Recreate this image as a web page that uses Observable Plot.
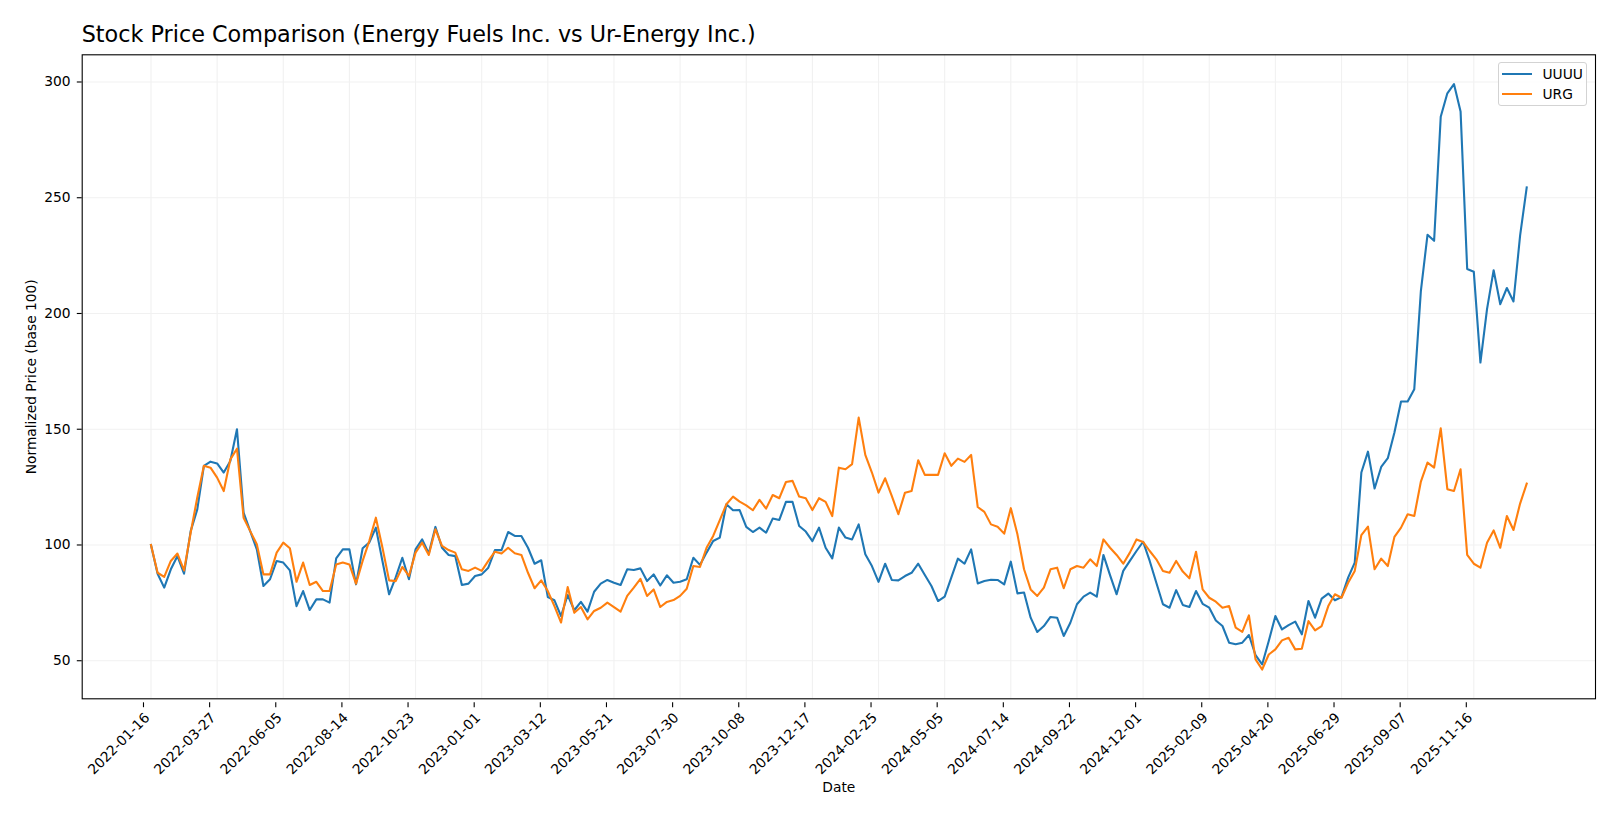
<!DOCTYPE html>
<html><head><meta charset="utf-8">
<script src="https://cdn.jsdelivr.net/npm/d3@7"></script>
<script src="https://cdn.jsdelivr.net/npm/@observablehq/plot@0.6"></script>
<style>
body{margin:0;background:#fff;}
#wrap{position:relative;width:1620px;height:819px;font-family:"DejaVu Sans",sans-serif;}
#legend{position:absolute;left:1498px;top:61.5px;width:89px;height:44.5px;box-sizing:border-box;border:1px solid #d3d3d3;border-radius:3px;background:rgba(255,255,255,0.8);}
.lrow{position:absolute;left:0;height:20px;width:100%;}
.sw{position:absolute;left:2.7px;top:9px;width:30px;height:2.1px;}
.lt{position:absolute;left:43.5px;top:1px;font-size:13.8px;line-height:18px;color:#000;}
</style></head>
<body><div id="wrap"><div id="chart"></div><div id="legend"></div></div>
<script>
const seriesNames = ["UUUU", "URG"];
const seriesColors = ["#1f77b4", "#ff7f0e"];
const startDate = "2022-01-16";
const stepDays = 7;
const titleText = "Stock Price Comparison (Energy Fuels Inc. vs Ur-Energy Inc.)";
const xLabel = "Date";
const yLabel = "Normalized Price (base 100)";

const uuuu = [
 100, 87.6, 81.6, 89.5, 95.2, 87.6, 106, 115.4, 134.2, 136,
 135.2, 131.3, 136.3, 150, 114, 106, 98.1, 82.3, 85.2, 93.1,
 92.4, 89, 73.6, 80.1, 71.9, 76.5, 76.5, 75.1, 94.2, 98.1,
 98.1, 83, 98.6, 101, 107.5, 93, 78.7, 86, 94.5, 85.2,
 98.1, 102.4, 96.3, 107.8, 98.8, 95.7, 95.2, 82.7, 83.3, 86.6,
 87.3, 90.2, 97.8, 97.8, 105.6, 103.9, 103.9, 98.8, 91.9, 93.4,
 77.5, 76.1, 69.3, 78.4, 71.8, 75.4, 71.2, 79.8, 83.3, 84.9,
 83.7, 82.7, 89.5, 89.2, 89.9, 84.4, 87.3, 82.5, 86.9, 83.7,
 84.1, 85.2, 94.5, 91.4, 96.7, 101.7, 103.2, 117.6, 115, 115.1,
 107.8, 105.6, 107.5, 105.3, 111.4, 110.8, 118.6, 118.6, 108.2, 105.8,
 101.7, 107.5, 98.8, 94.2, 107.5, 103.2, 102.4, 108.9, 96, 90.9,
 84.1, 91.9, 84.9, 84.7, 86.6, 88, 91.9, 87, 82.3, 75.8,
 77.7, 85.9, 94.1, 91.9, 98.1, 83.4, 84.4, 85, 84.9, 83,
 92.8, 79.1, 79.5, 68.6, 62.4, 65, 68.9, 68.6, 60.7, 66.4,
 74.4, 77.7, 79.4, 77.7, 95.7, 87, 78.7, 88.8, 93.1, 97.4,
 101.4, 93.1, 83.7, 74.4, 72.9, 80.5, 74.1, 73.2, 80.1, 74.6,
 72.9, 67.4, 65, 57.8, 57.1, 57.8, 61.1, 52.4, 48.4, 58.5,
 69.3, 63.5, 65.4, 66.9, 61.4, 75.8, 68.6, 76.8, 79, 76.1,
 77.5, 85.9, 92.4, 131.3, 140.3, 124.4, 133.7, 137.5, 148.6, 162,
 162, 167.3, 209.8, 234, 231.4, 285, 295.1, 299.1, 287.3, 219.2,
 218, 178.8, 201.9, 218.7, 204, 211, 205.2, 233.6, 254.5
];
const urg = [
 100, 88, 86.2, 93.1, 96.3, 89, 105.3, 120.5, 134.2, 133.4,
 129.1, 123.3, 137, 141.6, 111.8, 106, 100.3, 87.3, 87.3, 96.7,
 101, 98.6, 84.1, 92.4, 82.7, 84.1, 80.1, 80.1, 91.6, 92.4,
 91.6, 83.3, 93.1, 101.7, 111.8, 98.8, 84.7, 84.4, 90.5, 86.6,
 96.7, 101, 95.7, 106.8, 99.6, 97.8, 96.7, 89.5, 88.8, 90.2,
 88.8, 93.1, 97.1, 96.3, 98.8, 96.4, 95.7, 88, 81.3, 84.7,
 80.1, 73.6, 66.5, 81.8, 70.7, 73.2, 67.9, 71.5, 72.9, 75.1,
 73.2, 71.2, 78, 81.6, 85.4, 78, 80.8, 73.2, 75.4, 76.2,
 78, 81.1, 90.9, 90.5, 98.8, 103.9, 110.7, 117.6, 120.9, 118.7,
 117.1, 115, 119.5, 115.7, 121.6, 120.2, 127.2, 127.7, 120.9, 120.2,
 115.1, 120.2, 118.6, 112.5, 133.4, 132.7, 134.9, 155, 138.9, 131.3,
 122.6, 128.8, 121.2, 113.3, 122.6, 123.3, 136.6, 130.3, 130.3, 130.3,
 139.6, 134.2, 137.3, 135.9, 138.9, 116.4, 114.3, 108.9, 107.9, 104.9,
 115.9, 104.6, 89.5, 80.8, 78, 81.6, 89.5, 90.2, 81.3, 89.5,
 90.9, 90.2, 93.8, 90.9, 102.4, 98.8, 95.7, 91.9, 96.7, 102.4,
 101.3, 97.4, 93.8, 88.8, 88, 93.1, 88.5, 85.6, 97.1, 80.8,
 77.2, 75.5, 72.9, 73.6, 64.3, 62.5, 69.6, 50.6, 46.2, 52.7,
 54.9, 58.8, 59.9, 54.9, 55.2, 67.1, 63.1, 65, 73.6, 78.7,
 77.2, 83.7, 88.8, 104.3, 107.9, 89.5, 94.1, 90.9, 103.5, 107.5,
 113.3, 112.5, 127.4, 135.6, 133.4, 150.4, 124.1, 123.3, 132.7, 95.7,
 91.9, 90.2, 101, 106.3, 98.8, 112.5, 106.5, 117.9, 126.5
];
const xTickLabels = ["2022-01-16","2022-03-27","2022-06-05","2022-08-14","2022-10-23","2023-01-01","2023-03-12","2023-05-21","2023-07-30","2023-10-08","2023-12-17","2024-02-25","2024-05-05","2024-07-14","2024-09-22","2024-12-01","2025-02-09","2025-04-20","2025-06-29","2025-09-07","2025-11-16"];
const yTicks = [50, 100, 150, 200, 250, 300];

const DAY = 864e5;
const t0 = new Date(startDate + "T00:00:00Z").getTime();
const seriesValues = [uuuu, urg];
const rows = seriesValues.flatMap((vals, s) => vals.map((v, i) => ({date: new Date(t0 + i * stepDays * DAY), value: v, series: seriesNames[s]})));
const xTicks = xTickLabels.map(s => new Date(s + "T00:00:00Z"));

const dates = rows.map(r => r.date.getTime());
const dMin = d3.min(dates), dMax = d3.max(dates);
const dPad = (dMax - dMin) * 0.05;
const vMin = d3.min(rows, r => r.value), vMax = d3.max(rows, r => r.value);
const vPad = (vMax - vMin) * 0.05;

const fs = 13.8;
const chart = Plot.plot({
  width: 1620, height: 819,
  marginLeft: 81.7, marginRight: 25, marginTop: 54.3, marginBottom: 120.7,
  style: {fontFamily: "DejaVu Sans", fontSize: fs + "px", color: "#000", background: "#fff"},
  x: {type: "utc", domain: [new Date(dMin - dPad), new Date(dMax + dPad)]},
  y: {domain: [vMin - vPad, vMax + vPad]},
  color: {domain: seriesNames, range: seriesColors},
  marks: [
    Plot.gridX(xTicks, {stroke: "#f1f1f1", strokeOpacity: 1, strokeWidth: 1.1}),
    Plot.gridY(yTicks, {stroke: "#f1f1f1", strokeOpacity: 1, strokeWidth: 1.1}),
    Plot.line(rows, {x: "date", y: "value", z: "series", stroke: "series", strokeWidth: 2.1, strokeLinejoin: "round", strokeLinecap: "square"}),
    Plot.frame({stroke: "#000", strokeWidth: 1.1}),
    Plot.axisX(xTicks, {tickFormat: d3.utcFormat("%Y-%m-%d"), tickRotate: -45, tickSize: 4.9, tickPadding: 4, strokeWidth: 1.1, fontSize: fs, label: null, textAnchor: "end", lineAnchor: "top", dx: -7.5, dy: 4}),
    Plot.axisY(yTicks, {tickSize: 4.9, tickPadding: 6.8, strokeWidth: 1.1, fontSize: fs, label: null}),
    Plot.text([titleText], {frameAnchor: "top-left", textAnchor: "start", lineAnchor: "bottom", dy: -13, dx: -0.5, fontSize: 22.3}),
    Plot.text([yLabel], {frameAnchor: "left", textAnchor: "middle", lineAnchor: "middle", rotate: -90, dx: -50.7, fontSize: fs}),
    Plot.text([xLabel], {frameAnchor: "bottom", textAnchor: "middle", lineAnchor: "middle", dy: 88.7, fontSize: fs})
  ]
});
document.getElementById("chart").appendChild(chart);

const legend = document.getElementById("legend");
seriesNames.forEach((name, i) => {
  const row = document.createElement("div");
  row.className = "lrow";
  row.style.top = (1 + i * 20) + "px";
  const sw = document.createElement("div");
  sw.className = "sw";
  sw.style.background = seriesColors[i];
  const t = document.createElement("div");
  t.className = "lt";
  t.textContent = name;
  row.appendChild(sw); row.appendChild(t);
  legend.appendChild(row);
});
</script>
</body></html>
